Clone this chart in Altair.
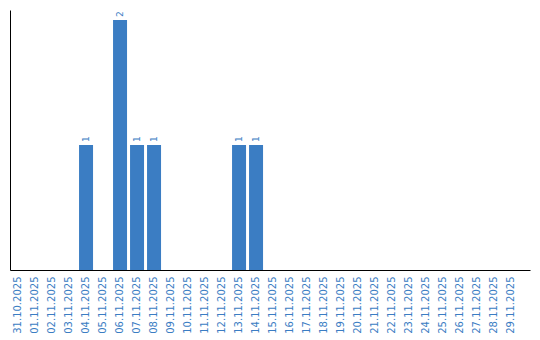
import altair as alt
import pandas as pd

dates = ["31.10.2025"] + [f"{d:02d}.11.2025" for d in range(1, 30)]
counts = [0, 0, 0, 0, 1, 0, 2, 1, 1, 0, 0, 0, 0, 1, 1,
          0, 0, 0, 0, 0, 0, 0, 0, 0, 0, 0, 0, 0, 0, 0]

df = pd.DataFrame({"date": dates, "count": counts})
df["label"] = df["count"].apply(lambda v: str(v) if v > 0 else "")

BLUE = "#3b7dc3"

x = alt.X("date:N", sort=dates, title=None,
          scale=alt.Scale(paddingInner=0.1765, paddingOuter=0.382, align=0.08),
          axis=alt.Axis(labelAngle=270, ticks=False, labelPadding=6,
                        labelColor=BLUE, labelFont="DejaVu Sans", labelFontSize=10,
                        domainColor="black", domainWidth=1, labelOverlap=False))
y = alt.Y("count:Q", title=None, scale=alt.Scale(domain=[0, 2.08], nice=False),
          axis=alt.Axis(labels=False, ticks=False, grid=False,
                        domainColor="black", domainWidth=1))

base = alt.Chart(df)
bars = base.mark_bar(color=BLUE).encode(x=x, y=y)
text = base.mark_text(angle=270, align="left", baseline="middle", dx=3,
                      color=BLUE, font="DejaVu Sans", fontSize=9).encode(
    x=alt.X("date:N", sort=dates), y=alt.Y("count:Q"), text="label:N")

chart = alt.layer(bars, text).properties(
    width=520, height=260,
    autosize=alt.AutoSizeParams(type="none"),
    padding={"left": 10, "top": 10, "right": 10, "bottom": 70},
).configure(background="white").configure_view(stroke=None)

chart.save("out.html", embed_options={"renderer": "svg", "actions": False})
